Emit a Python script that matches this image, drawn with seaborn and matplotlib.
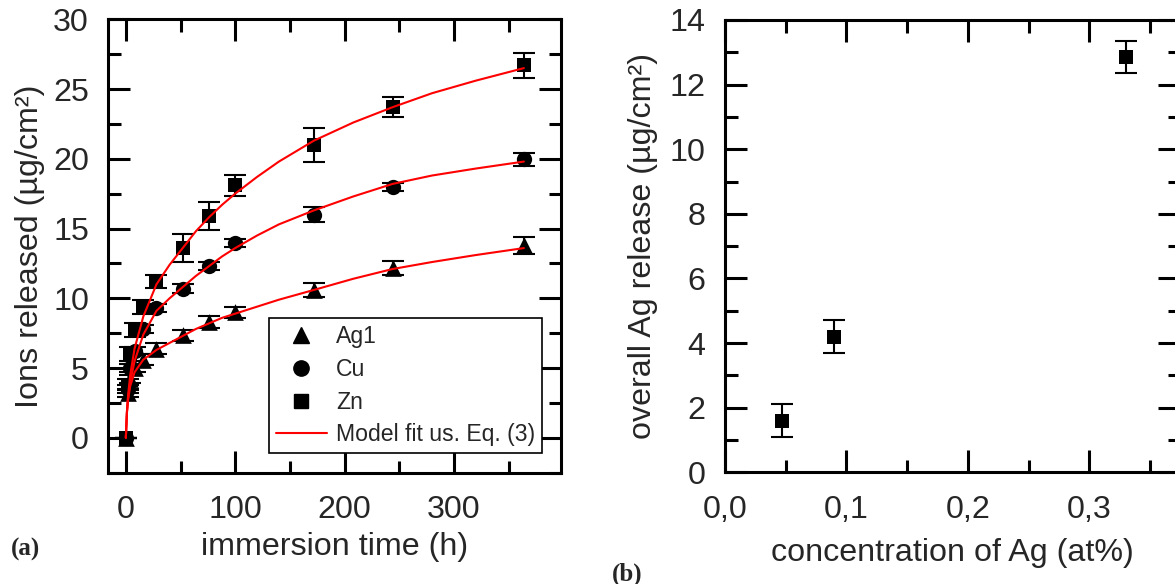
import matplotlib
matplotlib.use("Agg")
import matplotlib.pyplot as plt
import seaborn as sns
from matplotlib.ticker import MultipleLocator, FuncFormatter
from matplotlib.lines import Line2D

# panel (a): ions released vs immersion time
time_h = [0, 2, 4, 8, 16, 28, 52, 76, 100, 172, 244, 364]
ag1 = [0, 3.2, 4.2, 5.0, 5.6, 6.4, 7.35, 8.3, 9.0, 10.6, 12.2, 13.8]
ag1_err = [0, 0.3, 0.3, 0.3, 0.4, 0.4, 0.4, 0.4, 0.4, 0.5, 0.5, 0.6]
cu = [0, 3.5, 5.0, 6.2, 7.8, 9.3, 10.7, 12.3, 13.95, 16.0, 18.0, 19.95]
cu_err = [0, 0.3, 0.3, 0.3, 0.3, 0.3, 0.3, 0.3, 0.3, 0.55, 0.3, 0.45]
zn = [0, 3.8, 6.0, 7.7, 9.4, 11.2, 13.6, 15.9, 18.1, 21.0, 23.7, 26.7]
zn_err = [0, 0.4, 0.5, 0.5, 0.5, 0.45, 1.0, 1.0, 0.75, 1.2, 0.7, 0.9]

# model fit curves
fit_t = [0, 1, 2, 4, 8, 16, 28, 40, 52, 64, 76, 88, 100, 120, 140, 172,
         208, 244, 280, 320, 364]
ag1_fit = [0, 1.8, 2.7, 3.7, 4.7, 5.6, 6.3, 6.8, 7.3, 7.8, 8.2, 8.6, 8.9,
           9.4, 9.9, 10.6, 11.4, 12.1, 12.6, 13.1, 13.6]
cu_fit = [0, 1.8, 2.8, 4.0, 5.5, 7.4, 9.1, 10.0, 10.8, 11.6, 12.3, 13.0, 13.6,
          14.5, 15.3, 16.3, 17.3, 18.2, 18.8, 19.3, 19.8]
zn_fit = [0, 1.9, 3.0, 4.5, 6.4, 8.7, 11.0, 12.4, 13.6, 14.8, 15.8, 16.7, 17.5,
          18.7, 19.8, 21.3, 22.6, 23.7, 24.7, 25.6, 26.5]

# panel (b): overall Ag release vs Ag concentration
ag_conc = [0.047, 0.09, 0.33]
ag_release = [1.6, 4.2, 12.85]
ag_release_err = [0.5, 0.5, 0.5]

sns.set_theme(style="ticks")
plt.rcParams["font.family"] = ["Liberation Sans", "DejaVu Sans"]

fs = 23.2
fig = plt.figure(figsize=(11.75, 5.84), dpi=100)
ax1 = fig.add_axes([0.0922, 0.1906, 0.3853, 0.7764])
ax2 = fig.add_axes([0.617, 0.1913, 0.3872, 0.7745])

series = [("Ag1", ag1, ag1_err, ag1_fit, "^", 12),
          ("Cu", cu, cu_err, cu_fit, "o", 11),
          ("Zn", zn, zn_err, zn_fit, "s", 9.5)]

for name, vals, err, fit, mk, ms in series:
    ax1.errorbar(time_h, vals, yerr=err, fmt="none", ecolor="black",
                 elinewidth=1.5, capsize=8, capthick=1.5, zorder=2)
    sns.scatterplot(x=time_h, y=vals, marker=mk, s=ms ** 2, color="black",
                    edgecolor="black", linewidth=0, ax=ax1, zorder=3)
    sns.lineplot(x=fit_t, y=fit, color="red", linewidth=1.5, ax=ax1,
                 zorder=4, estimator=None, sort=False)

ax1.set_xlim(-16, 398)
ax1.set_ylim(-2.5, 30)
ax1.xaxis.set_major_locator(MultipleLocator(100))
ax1.xaxis.set_minor_locator(MultipleLocator(50))
ax1.yaxis.set_major_locator(MultipleLocator(5))
ax1.yaxis.set_minor_locator(MultipleLocator(2.5))
ax1.set_xlabel("immersion time (h)", fontsize=fs, labelpad=5)
ax1.set_ylabel("Ions released (µg/cm²)", fontsize=fs, labelpad=6)

handles = [Line2D([], [], marker="^", color="black", ls="none", ms=12),
           Line2D([], [], marker="o", color="black", ls="none", ms=11),
           Line2D([], [], marker="s", color="black", ls="none", ms=9.5),
           Line2D([], [], color="red", lw=1.5)]
leg = ax1.legend(handles, ["Ag1", "Cu", "Zn", "Model fit us. Eq. (3)"],
                 loc="lower right", bbox_to_anchor=(0.958, 0.0428),
                 fontsize=16.6, frameon=True, fancybox=False,
                 handlelength=2.2, handletextpad=0.4, borderpad=0.3,
                 labelspacing=0.42, borderaxespad=0)
leg.get_frame().set_edgecolor("black")
leg.get_frame().set_linewidth(1.2)
leg.get_frame().set_alpha(1)

ax2.errorbar(ag_conc, ag_release, yerr=ag_release_err, fmt="none",
             ecolor="black", elinewidth=1.5, capsize=8, capthick=1.5, zorder=2)
sns.scatterplot(x=ag_conc, y=ag_release, marker="s", s=90, color="black",
                linewidth=0, ax=ax2, zorder=3)
ax2.set_xlim(0, 0.3745)
ax2.set_ylim(0, 14)
ax2.xaxis.set_major_locator(MultipleLocator(0.1))
ax2.xaxis.set_minor_locator(MultipleLocator(0.05))
ax2.yaxis.set_major_locator(MultipleLocator(2))
ax2.yaxis.set_minor_locator(MultipleLocator(1))
ax2.xaxis.set_major_formatter(FuncFormatter(lambda v, p: f"{v:.1f}".replace(".", ",")))
ax2.set_xlabel("concentration of Ag (at%)", fontsize=fs, labelpad=10)
ax2.set_ylabel("overall Ag release (µg/cm²)", fontsize=fs, labelpad=8)

for ax in (ax1, ax2):
    ax.set_facecolor("white")
    for sp in ax.spines.values():
        sp.set_visible(True)
        sp.set_linewidth(2.2)
        sp.set_color("black")
    ax.tick_params(which="both", direction="in", top=True, right=True,
                   color="black", width=2.2, labelsize=fs)
    ax.tick_params(which="major", length=16, pad=14)
    ax.tick_params(which="minor", length=9)
    ax.tick_params(axis="x", which="major", pad=16)

fig.text(0.009, 0.048, "(a)", fontsize=18, fontweight="bold",
         family="Liberation Serif")
fig.text(0.521, 0.006, "(b)", fontsize=18, fontweight="bold",
         family="Liberation Serif")

fig.savefig("out.png", dpi=100, facecolor="white")
